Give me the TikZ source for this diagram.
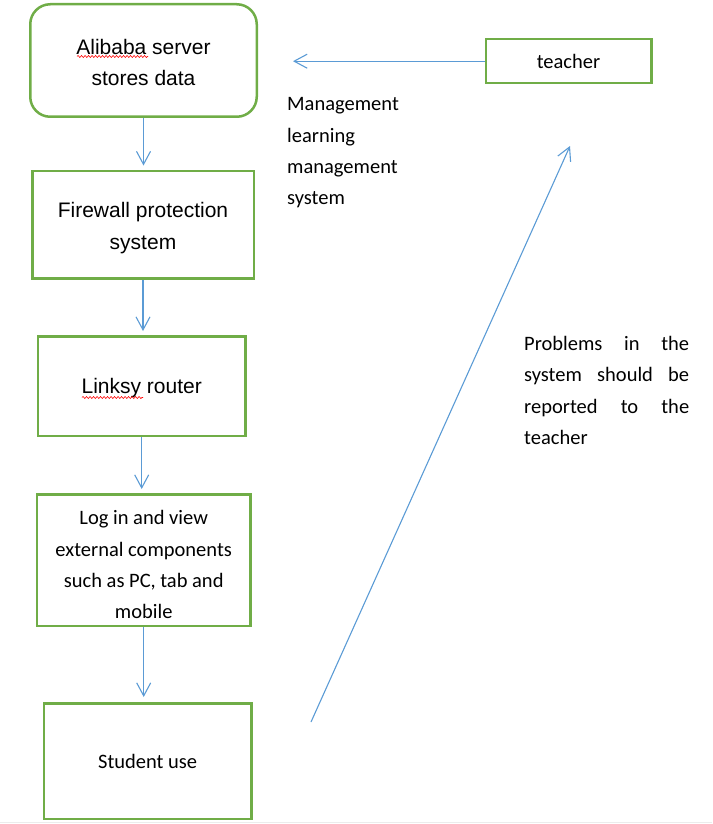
\documentclass[tikz,border=0pt]{standalone}
\usepackage{fontspec}
\setmainfont{Carlito}
\newfontfamily\arialfont{Liberation Sans}
\usepackage{tikz}
\usetikzlibrary{shapes.geometric, arrows.meta, decorations.pathmorphing}
\definecolor{boxgreen}{HTML}{70AD47}
\definecolor{arrowblue}{HTML}{5B9BD5}
\newcommand{\boxfontA}{\arialfont\fontsize{21pt}{31.5pt}\selectfont}
\newcommand{\boxfontC}{\fontsize{20.5pt}{31.3pt}\selectfont}
\newcommand{\topgap}[1]{\rule{0pt}{#1}}
\tikzstyle{roundbox} = [rectangle, rounded corners=20pt, text centered, align=center, draw=boxgreen, line width=2.5pt]
\tikzstyle{process} = [rectangle, text centered, align=center, draw=boxgreen, line width=2.5pt]
\tikzstyle{arrow} = [draw=arrowblue, line width=1.1pt, -{Straight Barb[length=13pt,width=14pt]}]
\tikzstyle{note} = [inner sep=0pt, font=\boxfontC]
\tikzstyle{spellmark} = [draw=red, line width=0.6pt, decorate, decoration={snake, amplitude=1pt, segment length=3.5pt}]

\begin{document}
\begin{tikzpicture}[x=1pt, y=1pt, node distance=164pt]
				\useasboundingbox (0,0) rectangle (712,-824);
				%----------------------------------------------------%
				\node(alibaba) [roundbox, minimum width=226.5pt, minimum height=112.5pt, font=\boxfontA] at (143.5,-60.5) {\topgap{19.5pt}Alibaba server\\stores data};
				\node(firewall) [process, below of=alibaba, xshift=-0.5pt, minimum width=221.5pt, minimum height=107.5pt, font=\boxfontA] {\topgap{22.5pt}Firewall protection\\system};
				\node(linksy) [process, below of=firewall, xshift=-1.3pt, yshift=2.5pt, minimum width=207.5pt, minimum height=99.5pt, font=\boxfontA] {\topgap{19.5pt}Linksy router};
				\node(login) [process, below of=linksy, xshift=2pt, yshift=-10pt, minimum width=213.5pt, minimum height=131.5pt, font=\boxfontC] {\topgap{23.5pt}Log in and view\\external components\\such as PC, tab and\\mobile};
				\node(student) [process, below of=login, xshift=4pt, yshift=-37pt, minimum width=207.5pt, minimum height=115.5pt, font=\boxfontC] {Student use};
				
				\draw[arrow, shorten >=4pt] (alibaba.south) -- (alibaba.south |- firewall.north);
				\draw[arrow, shorten >=4pt] (firewall.south) -- (firewall.south |- linksy.north);
				\draw[arrow, shorten >=4pt] (linksy.south) -- (linksy.south |- login.north);
				\draw[arrow, shorten >=5pt] (login.south) -- (login.south |- student.north);
				
				% spelling marks
				\draw[spellmark] (77,-56.5) -- (148,-56.5);
				\draw[spellmark] (82,-397.5) -- (143,-397.5);
				
				%----------------------------------------------------%
				\node(teacher) [process, minimum width=165.5pt, minimum height=44pt, font=\boxfontC] at (568.5,-61.2) {teacher};
				\coordinate (lmsend) at ([xshift=-191.5pt]teacher.west);
				\draw[arrow] (teacher.west) -- (lmsend);
				\node(lmslabel) [note, anchor=west, align=left] at (287,-153) {Management\\learning\\management\\system};
				
				%----------------------------------------------------%
				\coordinate (reportstart) at (311,-722);
				\coordinate (reportend) at (570,-146);
				\draw[arrow] (reportstart) -- (reportend);
				\node(problabel) [note, anchor=west, align=left] at (524,-390.5) {\makebox[165pt][s]{Problems in the}\\\makebox[165pt][s]{system should be}\\\makebox[165pt][s]{reported to the}\\teacher};
				
				\draw[gray!15, line width=1pt] (0,-822.5) -- (712,-822.5);
			\end{tikzpicture}
\end{document}
